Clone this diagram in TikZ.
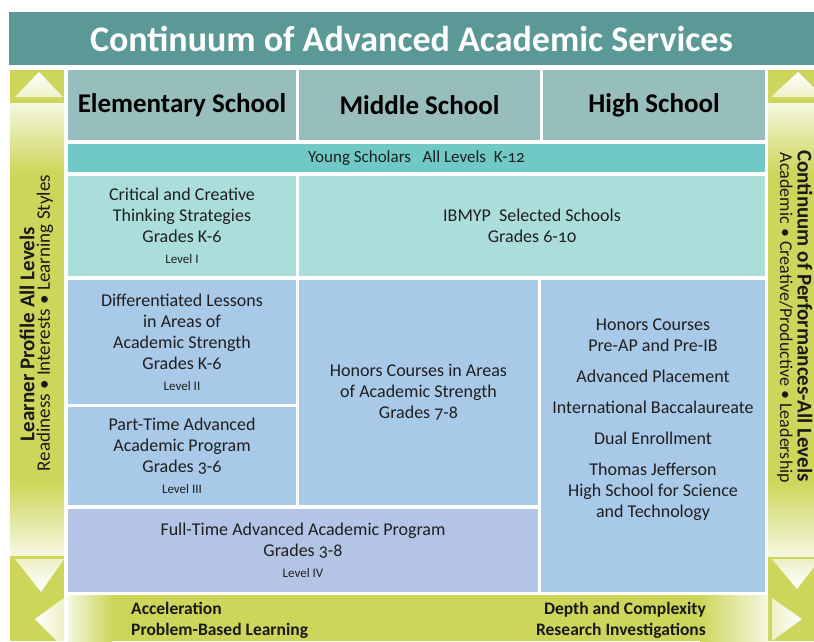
\documentclass[tikz,border=0pt]{standalone}
\usepackage{fontspec}
\setmainfont{Carlito}[Numbers=OldStyle]
\definecolor{banner}{HTML}{5A9996}
\definecolor{headcol}{HTML}{97BEBC}
\definecolor{youngcol}{HTML}{70C9C5}
\definecolor{tealcol}{HTML}{ABDEDB}
\definecolor{bluecol}{HTML}{A8C9E7}
\definecolor{lavcol}{HTML}{B4C4E5}
\definecolor{greencol}{HTML}{CDD65B}
\definecolor{palecol}{HTML}{F5F7E0}
\newcommand{\lvl}[1]{{\fontsize{13}{21}\selectfont #1}}

\begin{document}
\begin{tikzpicture}[x=1pt, y=-1pt, inner sep=0pt]
		\tikzstyle{cell}=[rectangle, align=center, text=black!88, font=\fontsize{18}{21}\selectfont]
		\tikzstyle{head}=[cell, fill=headcol, minimum height=70pt, text=black, font=\bfseries\fontsize{27}{30}\selectfont]
		\tikzstyle{side}=[align=center, text=black!90]
		\tikzstyle{arrowtip}=[draw=none]
			\useasboundingbox (0,0) rectangle (814,641);

			% title banner
			\node[cell, fill=banner, text=white, minimum width=805pt, minimum height=53pt,
				font=\bfseries\fontsize{36}{40}\selectfont] (title) at (411.5,38.5) {Continuum of Advanced Academic Services};

			% side bars
			\fill[greencol] (10,70) rectangle (64,641);
			\shade[top color=palecol, bottom color=greencol] (10,103) rectangle (64,172);
			\shade[top color=greencol, bottom color=palecol] (10,483) rectangle (64,555);
			\fill[greencol] (768,70) rectangle (814,641);
			\shade[top color=palecol, bottom color=greencol] (768,103) rectangle (814,172);
			\shade[top color=greencol, bottom color=palecol] (768,483) rectangle (814,556);
			\shade[arrowtip, top color=white, bottom color=greencol!35] (39,72) -- (63,97) -- (15,97) -- cycle;
			\shade[arrowtip, top color=white, bottom color=greencol!35] (798,72) -- (814,88) -- (814,97) -- (771,97) -- cycle;
			\shade[arrowtip, top color=greencol!35, bottom color=white] (15,559) -- (64,559) -- (41,592) -- cycle;
			\shade[arrowtip, left color=white, right color=greencol!35] (35,619) -- (64,598) -- (64,641) -- (57,641) -- cycle;
			\shade[arrowtip, top color=greencol!35, bottom color=white] (772,559) -- (814,559) -- (814,567) -- (797,589) -- cycle;
			\shade[arrowtip, left color=greencol!35, right color=white] (772,598) -- (802,619) -- (772,641) -- cycle;

			% bottom bar
			\fill[greencol] (68,595) rectangle (768,641);
			\shade[left color=palecol, right color=greencol] (68,595) rectangle (112,641);
			\shade[left color=greencol, right color=palecol] (700,595) rectangle (768,641);

			% school levels
			\node[head, minimum width=228pt] (elem) at (182,105) {Elementary School};
			\node[head, minimum width=241pt] (mid) at (419.5,105) {Middle School};
			\node[head, minimum width=222pt] (high) at (654,105) {High School};

			% services
			\node[cell, fill=youngcol, minimum width=697pt, minimum height=28pt, font=\fontsize{17}{20}\selectfont] (young) at (416.5,158) {Young Scholars\ \ \ All Levels\ \ K-12};
			\node[cell, fill=tealcol, minimum width=228pt, minimum height=100pt] (crit) at (182,226) {Critical and Creative\\Thinking Strategies\\Grades K-6\\\lvl{Level I}};
			\node[cell, fill=tealcol, minimum width=466pt, minimum height=100pt] (ibmyp) at (532,226) {IBMYP\ \ Selected Schools\\Grades 6-10};
			\node[cell, fill=bluecol, minimum width=228pt, minimum height=124pt] (diff) at (182,342) {Differentiated Lessons\\in Areas of\\Academic Strength\\Grades K-6\\\lvl{Level II}};
			\node[cell, fill=bluecol, minimum width=228pt, minimum height=98pt] (part) at (182,456) {Part-Time Advanced\\Academic Program\\Grades 3-6\\\lvl{Level III}};
			\node[cell, fill=bluecol, minimum width=239pt, minimum height=225pt] (honors) at (418.5,392.5) {Honors Courses in Areas\\of Academic Strength\\Grades 7-8};
			\node[cell, fill=bluecol, minimum width=224pt, minimum height=312pt] (hs) at (653,436) {};
			\node[cell] (hstext) at (653,420) {Honors Courses\\Pre-AP and Pre-IB\\[10pt]Advanced Placement\\[10pt]International Baccalaureate\\[10pt]Dual Enrollment\\[10pt]Thomas Jefferson\\High School for Science\\and Technology};
			\node[cell, fill=lavcol, minimum width=470pt, minimum height=83pt] (full) at (303,550.5) {Full-Time Advanced Academic Program\\Grades 3-8\\\lvl{Level IV}};

			% side labels
			\node[side, rotate=90, font=\bfseries\fontsize{21}{24}\selectfont] (profile) at (27,334) {Learner Profile All Levels};
			\node[side, rotate=90, font=\fontsize{19}{22}\selectfont] (profilesub) at (45,323) {Readiness • Interests • Learning Styles};
			\node[side, rotate=-90, font=\bfseries\fontsize{21}{24}\selectfont] (perf) at (805,316) {Continuum of Performances-All Levels};
			\node[side, rotate=-90, font=\fontsize{18}{21}\selectfont] (perfsub) at (785,318) {Academic • Creative/Productive • Leadership};

			% strategies
			\node[side, anchor=north west, align=left, font=\bfseries\fontsize{17.5}{21}\selectfont] (accel) at (131,602) {Acceleration\\Problem-Based Learning};
			\node[side, anchor=north east, align=right, font=\bfseries\fontsize{17.5}{21}\selectfont] (depth) at (706,602) {Depth and Complexity\\Research Investigations};
		\end{tikzpicture}
\end{document}
